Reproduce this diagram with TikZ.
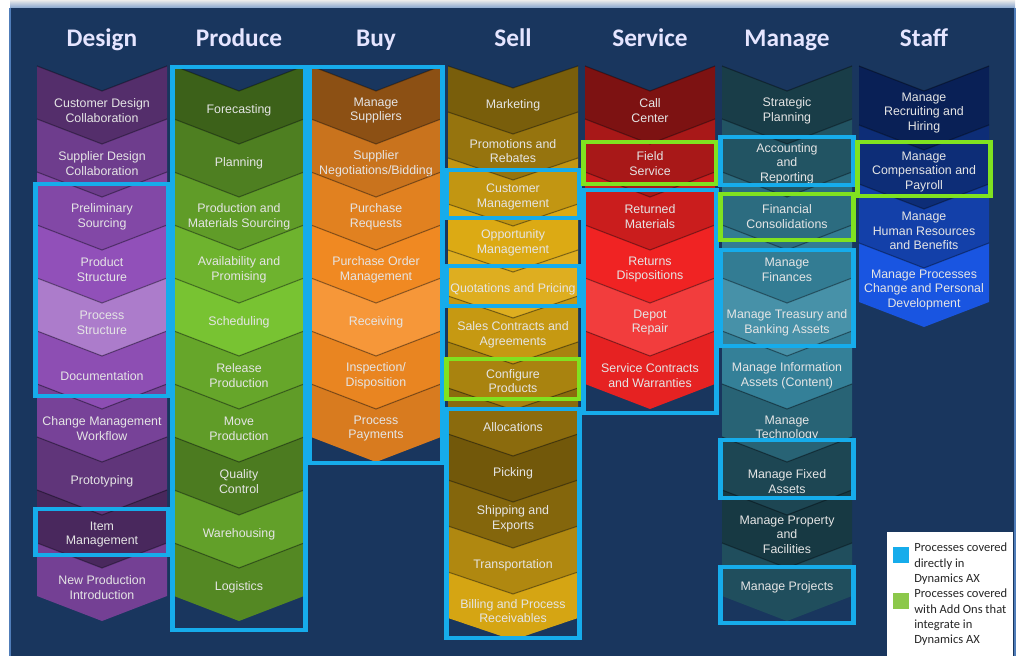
\documentclass[tikz,border=0pt]{standalone}
\usepackage{fontspec}
\setmainfont{Liberation Sans}
\newfontfamily\headfont{Carlito}
\usetikzlibrary{positioning}

\definecolor{bgnavy}{RGB}{25,54,94}
\definecolor{edgeblue}{RGB}{80,125,185}
\definecolor{axblue}{RGB}{22,172,235}
\definecolor{addgreen}{RGB}{128,226,32}
\definecolor{legendgreen}{RGB}{140,200,75}
\definecolor{designc}{RGB}{145,80,185}
\definecolor{producec}{RGB}{120,195,50}
\definecolor{buyc}{RGB}{245,140,35}
\definecolor{sellc}{RGB}{220,170,20}
\definecolor{servicec}{RGB}{240,35,35}
\definecolor{managec}{RGB}{55,135,160}
\definecolor{staffc}{RGB}{25,85,225}

\tikzset{
  colhead/.style={font=\headfont\bfseries\fontsize{18}{20}\selectfont, text=white!90!blue, anchor=base},
  steptext/.style={align=center, inner sep=0pt, text=white!90!black, font=\fontsize{8.8}{10.5}\selectfont},
  seam/.style={draw=black, draw opacity=0.35, line width=0.8pt},
  axframe/.style={draw=axblue, line width=3.3pt},
  addonframe/.style={draw=addgreen, line width=3.3pt},
  legendtext/.style={font=\headfont\fontsize{8.9}{10.7}\selectfont, align=left, inner sep=0pt, text=black!85, anchor=north west},
}

% one column of chevrons: #1 node prefix, #2 left edge, #3 pitch, #4 notch depth, #5 colour/text list
\newcommand{\chevcol}[5]{%
  \foreach \fc/\txt [count=\i from 0] in {#5} {
    \pgfmathsetmacro{\yt}{66+#3*\i}
    \pgfmathsetmacro{\yb}{\yt+#3}
    \fill[fill=\fc] (#2,\yt) -- (#2+65,\yt+#4) -- (#2+130,\yt) -- (#2+130,\yb) -- (#2+65,\yb+#4) -- (#2,\yb) -- cycle;
    \draw[seam] (#2,\yt) -- (#2+65,\yt+#4) -- (#2+130,\yt);
    \node[steptext] (#1\i) at (#2+65,\yt+#4+0.37*#3) {\txt};
  }}

\begin{document}
\begin{tikzpicture}[x=0.025cm, y=-0.025cm]
  \useasboundingbox (0,0) rectangle (1020,656);
  \fill[white] (0,0) rectangle (1020,656);
  \fill[bgnavy] (10,0) rectangle (1015,656);
  \shade[top color=black!8, bottom color=edgeblue!70] (10,0) rectangle (1015,8);
  \draw[edgeblue, line width=1.2pt] (10,656) -- (10,8);
  \draw[edgeblue, line width=1.2pt] (1015,8) -- (1015,656);

  % column headings
  \node[colhead] (hdesign)  at (102,47) {Design};
  \node[colhead] (hproduce) at (239,47) {Produce};
  \node[colhead] (hbuy)     at (376,47) {Buy};
  \node[colhead] (hsell)    at (513,47) {Sell};
  \node[colhead] (hservice) at (650,47) {Service};
  \node[colhead] (hmanage)  at (787,47) {Manage};
  \node[colhead] (hstaff)   at (924,47) {Staff};

  % chevrons
  \chevcol{des}{37}{53}{25}{designc!58!black/{Customer Design\\Collaboration},
    designc!76!black/{Supplier Design\\Collaboration},
    designc!90!black/{Preliminary\\Sourcing},
    designc/{Product\\Structure},
    designc!75!white/{Process\\Structure},
    designc!97!black/{Documentation},
    designc!82!black/{Change Management\\Workflow},
    designc!66!black/{Prototyping},
    designc!50!black/{Item\\Management},
    designc!80!black/{New Production\\Introduction}}

  \chevcol{pro}{174}{53}{25}{producec!50!black/{Forecasting},
    producec!65!black/{Planning},
    producec!80!black/{Production and\\Materials Sourcing},
    producec!92!black/{Availability and\\Promising},
    producec/{Scheduling},
    producec!85!black/{Release\\Production},
    producec!80!black/{Move\\Production},
    producec!63!black/{Quality\\Control},
    producec!82!black/{Warehousing},
    producec!70!black/{Logistics}}

  \chevcol{buy}{311}{53}{25}{buyc!57!black/{Manage\\Suppliers},
    buyc!82!black/{Supplier\\Negotiations/Bidding},
    buyc!92!black/{Purchase\\Requests},
    buyc!98!black/{Purchase Order\\Management},
    buyc!90!white/{Receiving},
    buyc!95!black/{Inspection/\\Disposition},
    buyc!88!black/{Process\\Payments}}

  \chevcol{sel}{448}{46}{22}{sellc!55!black/{Marketing},
    sellc!68!black/{Promotions and\\Rebates},
    sellc!88!black/{Customer\\Management},
    sellc/{Opportunity\\Management},
    sellc!95!white/{Quotations and Pricing},
    sellc!90!black/{Sales Contracts and\\Agreements},
    sellc!77!black/{Configure\\Products},
    sellc!63!black/{Allocations},
    sellc!52!black/{Picking},
    sellc!60!black/{Shipping and\\Exports},
    sellc!80!black/{Transportation},
    sellc!97!black/{Billing and Process\\Receivables}}

  \chevcol{ser}{585}{53}{25}{servicec!52!black/{Call\\Center},
    servicec!70!black/{Field\\Service},
    servicec!84!black/{Returned\\Materials},
    servicec/{Returns\\Dispositions},
    servicec!88!white/{Depot\\Repair},
    servicec!96!black/{Service Contracts\\and Warranties}}

  \chevcol{man}{722}{53}{25}{managec!45!black/{Strategic\\Planning},
    managec!62!black/{Accounting\\and\\Reporting},
    managec!80!black/{Financial\\Consolidations},
    managec!92!black/{Manage\\Finances},
    managec!92!white/{Manage Treasury and\\Banking Assets},
    managec!95!black/{Manage Information\\Assets (Content)},
    managec!73!black/{Manage\\Technology},
    managec!52!black/{Manage Fixed\\Assets},
    managec!42!black/{Manage Property\\and\\Facilities},
    managec!58!black/{Manage Projects}}

  \chevcol{sta}{859}{59}{25}{staffc!38!black/{Manage\\Recruiting and\\Hiring},
    staffc!53!black/{Manage\\Compensation and\\Payroll},
    staffc!75!black/{Manage\\Human Resources\\and Benefits},
    staffc/{Manage Processes\\Change and Personal\\Development}}

  % coverage frames
  \draw[axframe] (35.5,184) rectangle (168.5,396);
  \draw[axframe] (35.5,509) rectangle (168.5,555);
  \draw[axframe] (172.5,67) rectangle (305.5,630);
  \draw[axframe] (309.5,67) rectangle (442.5,463);
  \draw[axframe] (446.5,170) rectangle (579.5,218);
  \draw[axframe] (446.5,266) rectangle (579.5,306);
  \draw[addonframe] (446.5,359) rectangle (579.5,399);
  \draw[axframe] (446.5,409) rectangle (579.5,638);
  \draw[addonframe] (583.5,142) rectangle (716.5,184);
  \draw[axframe] (583.5,190) rectangle (716.5,413);
  \draw[axframe] (720.5,137) rectangle (853.5,185);
  \draw[addonframe] (720.5,194) rectangle (853.5,240);
  \draw[axframe] (720.5,250) rectangle (853.5,346);
  \draw[axframe] (720.5,440) rectangle (853.5,498);
  \draw[axframe] (720.5,567) rectangle (853.5,623);
  \draw[addonframe] (857.5,142) rectangle (990.5,196);

  % legend
  \fill[white] (887,532) rectangle (1013,656);
  \fill[axblue] (893,547) rectangle (909,563);
  \fill[legendgreen] (893,593) rectangle (909,609);
  \node[legendtext] (legax) at (914,543) {Processes covered\\directly in\\Dynamics AX};
  \node[legendtext] (legaddon) at (914,589) {Processes covered\\with Add Ons that\\integrate in\\Dynamics AX};
\end{tikzpicture}
\end{document}
